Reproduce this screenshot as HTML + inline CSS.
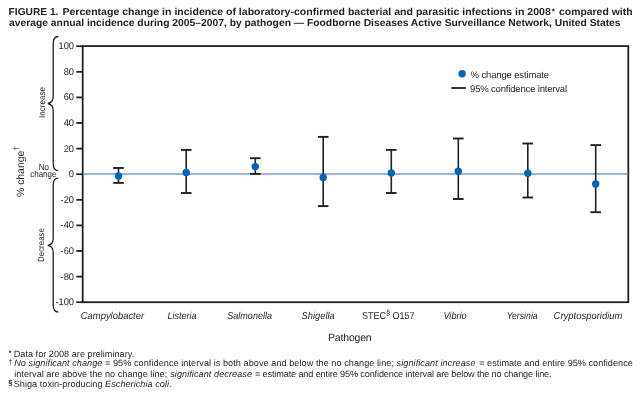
<!DOCTYPE html>
<html><head><meta charset="utf-8"><style>
html,body{margin:0;padding:0;background:#fff;width:641px;height:394px;overflow:hidden}
svg{display:block;will-change:transform}
text{font-family:"Liberation Sans",sans-serif;fill:#231f20;font-variant-ligatures:none;text-rendering:geometricPrecision;font-feature-settings:"liga" 0}
.tk{font-size:9.7px}
.lg{font-size:9.5px}
.xl{font-size:10px}
.it{font-style:italic}
.pa{font-size:10.5px}
.bl{font-size:8px}
.bb{font-size:8.6px}
.bn{font-size:9px}
.yl{font-size:10.5px}
.ti{font-size:10.05px;font-weight:bold}
.fn{font-size:9.15px}
.sm{font-size:6.5px;font-weight:bold}
</style></head><body>
<svg width="641" height="394" viewBox="0 0 641 394">
<rect x="82.7" y="46.1" width="545.6" height="256.1" fill="none" stroke="#231f20" stroke-width="1.8"/>
<line x1="76.3" y1="46.20" x2="82.7" y2="46.20" stroke="#231f20" stroke-width="1.8"/>
<text transform="translate(74,49.10) scale(0.96,1)" text-anchor="end" class="tk">100</text>
<line x1="76.3" y1="71.80" x2="82.7" y2="71.80" stroke="#231f20" stroke-width="1.8"/>
<text transform="translate(74,74.70) scale(0.96,1)" text-anchor="end" class="tk">80</text>
<line x1="76.3" y1="97.40" x2="82.7" y2="97.40" stroke="#231f20" stroke-width="1.8"/>
<text transform="translate(74,100.30) scale(0.96,1)" text-anchor="end" class="tk">60</text>
<line x1="76.3" y1="123.00" x2="82.7" y2="123.00" stroke="#231f20" stroke-width="1.8"/>
<text transform="translate(74,125.90) scale(0.96,1)" text-anchor="end" class="tk">40</text>
<line x1="76.3" y1="148.60" x2="82.7" y2="148.60" stroke="#231f20" stroke-width="1.8"/>
<text transform="translate(74,151.50) scale(0.96,1)" text-anchor="end" class="tk">20</text>
<line x1="76.3" y1="174.20" x2="82.7" y2="174.20" stroke="#231f20" stroke-width="1.8"/>
<text transform="translate(74,177.10) scale(0.96,1)" text-anchor="end" class="tk">0</text>
<line x1="76.3" y1="199.80" x2="82.7" y2="199.80" stroke="#231f20" stroke-width="1.8"/>
<text transform="translate(74,202.70) scale(0.96,1)" text-anchor="end" class="tk">-20</text>
<line x1="76.3" y1="225.40" x2="82.7" y2="225.40" stroke="#231f20" stroke-width="1.8"/>
<text transform="translate(74,228.30) scale(0.96,1)" text-anchor="end" class="tk">-40</text>
<line x1="76.3" y1="251.00" x2="82.7" y2="251.00" stroke="#231f20" stroke-width="1.8"/>
<text transform="translate(74,253.90) scale(0.96,1)" text-anchor="end" class="tk">-60</text>
<line x1="76.3" y1="276.60" x2="82.7" y2="276.60" stroke="#231f20" stroke-width="1.8"/>
<text transform="translate(74,279.50) scale(0.96,1)" text-anchor="end" class="tk">-80</text>
<line x1="76.3" y1="302.20" x2="82.7" y2="302.20" stroke="#231f20" stroke-width="1.8"/>
<text transform="translate(74,305.10) scale(0.96,1)" text-anchor="end" class="tk">-100</text>
<line x1="83.3" y1="174" x2="627.5" y2="174" stroke="#739dd3" stroke-width="1.7"/>
<line x1="118.5" y1="168.0" x2="118.5" y2="182.9" stroke="#231f20" stroke-width="1.6"/>
<line x1="113.2" y1="168.0" x2="123.8" y2="168.0" stroke="#231f20" stroke-width="1.9"/>
<line x1="113.2" y1="182.9" x2="123.8" y2="182.9" stroke="#231f20" stroke-width="1.9"/>
<circle cx="118.5" cy="176.0" r="3.7" fill="#0564b4"/>
<line x1="186.2" y1="149.9" x2="186.2" y2="193.0" stroke="#231f20" stroke-width="1.6"/>
<line x1="180.89999999999998" y1="149.9" x2="191.5" y2="149.9" stroke="#231f20" stroke-width="1.9"/>
<line x1="180.89999999999998" y1="193.0" x2="191.5" y2="193.0" stroke="#231f20" stroke-width="1.9"/>
<circle cx="186.2" cy="172.4" r="3.7" fill="#0564b4"/>
<line x1="255.3" y1="158.2" x2="255.3" y2="173.9" stroke="#231f20" stroke-width="1.6"/>
<line x1="250.0" y1="158.2" x2="260.6" y2="158.2" stroke="#231f20" stroke-width="1.9"/>
<line x1="250.0" y1="173.9" x2="260.6" y2="173.9" stroke="#231f20" stroke-width="1.9"/>
<circle cx="255.3" cy="166.6" r="3.7" fill="#0564b4"/>
<line x1="323.2" y1="136.9" x2="323.2" y2="206.1" stroke="#231f20" stroke-width="1.6"/>
<line x1="317.9" y1="136.9" x2="328.5" y2="136.9" stroke="#231f20" stroke-width="1.9"/>
<line x1="317.9" y1="206.1" x2="328.5" y2="206.1" stroke="#231f20" stroke-width="1.9"/>
<circle cx="323.2" cy="177.5" r="3.7" fill="#0564b4"/>
<line x1="391.3" y1="149.9" x2="391.3" y2="193.0" stroke="#231f20" stroke-width="1.6"/>
<line x1="386.0" y1="149.9" x2="396.6" y2="149.9" stroke="#231f20" stroke-width="1.9"/>
<line x1="386.0" y1="193.0" x2="396.6" y2="193.0" stroke="#231f20" stroke-width="1.9"/>
<circle cx="391.3" cy="173.0" r="3.7" fill="#0564b4"/>
<line x1="458.3" y1="138.5" x2="458.3" y2="199.0" stroke="#231f20" stroke-width="1.6"/>
<line x1="453.0" y1="138.5" x2="463.6" y2="138.5" stroke="#231f20" stroke-width="1.9"/>
<line x1="453.0" y1="199.0" x2="463.6" y2="199.0" stroke="#231f20" stroke-width="1.9"/>
<circle cx="458.3" cy="171.2" r="3.7" fill="#0564b4"/>
<line x1="527.8" y1="143.5" x2="527.8" y2="197.5" stroke="#231f20" stroke-width="1.6"/>
<line x1="522.5" y1="143.5" x2="533.0999999999999" y2="143.5" stroke="#231f20" stroke-width="1.9"/>
<line x1="522.5" y1="197.5" x2="533.0999999999999" y2="197.5" stroke="#231f20" stroke-width="1.9"/>
<circle cx="527.8" cy="173.2" r="3.7" fill="#0564b4"/>
<line x1="595.7" y1="145.1" x2="595.7" y2="212.2" stroke="#231f20" stroke-width="1.6"/>
<line x1="590.4000000000001" y1="145.1" x2="601.0" y2="145.1" stroke="#231f20" stroke-width="1.9"/>
<line x1="590.4000000000001" y1="212.2" x2="601.0" y2="212.2" stroke="#231f20" stroke-width="1.9"/>
<circle cx="595.7" cy="184.0" r="3.7" fill="#0564b4"/>
<circle cx="462.1" cy="73.8" r="3.7" fill="#0564b4"/>
<line x1="451.4" y1="88" x2="465.8" y2="88" stroke="#231f20" stroke-width="1.8"/>
<text x="470.6" y="77.5" class="lg" textLength="78.5" lengthAdjust="spacing">% change estimate</text>
<text x="470.1" y="91.8" class="lg" textLength="97" lengthAdjust="spacing">95% confidence interval</text>
<text x="80.8" y="318.6" class="xl it" textLength="63.3" lengthAdjust="spacingAndGlyphs">Campylobacter</text>
<text x="167.5" y="318.6" class="xl it" textLength="29.0" lengthAdjust="spacingAndGlyphs">Listeria</text>
<text x="227.2" y="318.6" class="xl it" textLength="44.9" lengthAdjust="spacingAndGlyphs">Salmonella</text>
<text x="301.59999999999997" y="318.6" class="xl it" textLength="33.1" lengthAdjust="spacingAndGlyphs">Shigella</text>
<text transform="translate(361.9,318.6) scale(0.9,1)" class="xl">STEC<tspan dy="-3.2" font-size="7.5" dx="0.3">§</tspan><tspan dy="3.2"> O157</tspan></text>
<text x="443.4" y="318.6" class="xl it" textLength="23.3" lengthAdjust="spacingAndGlyphs">Vibrio</text>
<text x="506.7" y="318.6" class="xl it" textLength="31.0" lengthAdjust="spacingAndGlyphs">Yersinia</text>
<text x="553.6" y="318.6" class="xl it" textLength="68.8" lengthAdjust="spacingAndGlyphs">Cryptosporidium</text>
<text x="328" y="341" class="pa" textLength="43.7" lengthAdjust="spacing">Pathogen</text>
<path d="M58.3,36.5 Q53.2,36.5 53.2,43.5 L53.2,96.5 Q53.2,102.5 47.8,103.5 Q53.2,104.5 53.2,110.5 L53.2,163.6 Q53.2,170.6 58.3,170.6" fill="none" stroke="#231f20" stroke-width="1.3"/>
<path d="M58.3,178.2 Q53.2,178.2 53.2,185.2 L53.2,238.4 Q53.2,244.4 47.8,245.4 Q53.2,246.4 53.2,252.4 L53.2,305.0 Q53.2,312.0 58.3,312.0" fill="none" stroke="#231f20" stroke-width="1.3"/>
<text transform="translate(45.3,102.5) rotate(-90) scale(0.94,1)" text-anchor="middle" class="bb">Increase</text>
<text transform="translate(44.1,245) rotate(-90) scale(0.925,1)" text-anchor="middle" class="bb">Decrease</text>
<text transform="translate(38.8,169.6) scale(0.89,1)" class="bn">No</text>
<text transform="translate(30.2,177.1) scale(0.89,1)" class="bn">change</text>
<text transform="translate(23.8,197) rotate(-90) scale(0.99,1)" class="yl">% change<tspan dy="-4.6" dx="0.3" font-size="8">†</tspan></text>
<text x="8.6" y="15" class="ti" textLength="49.8" lengthAdjust="spacingAndGlyphs">FIGURE 1.</text>
<text x="62.4" y="15" class="ti" textLength="488.4" lengthAdjust="spacingAndGlyphs">Percentage change in incidence of laboratory-confirmed bacterial and parasitic infections in 2008</text>
<text x="551.7" y="13.6" class="ti" style="font-size:8px">*</text>
<text x="559" y="15" class="ti" textLength="73.5" lengthAdjust="spacingAndGlyphs">compared with</text>
<text x="9" y="26" class="ti" textLength="611.6" lengthAdjust="spacingAndGlyphs">average annual incidence during 2005–2007, by pathogen — Foodborne Diseases Active Surveillance Network, United States</text>
<text x="8.7" y="354.7" class="sm">*</text>
<text x="13.7" y="356.6" class="fn" textLength="120.5" lengthAdjust="spacing">Data for 2008 are preliminary.</text>
<text x="8.8" y="364.2" class="sm">†</text>
<text x="14.2" y="366.1" class="fn it" textLength="88.2" lengthAdjust="spacing">No significant change</text>
<text x="105" y="366.1" class="fn" textLength="289.0" lengthAdjust="spacing">= 95% confidence interval is both above and below the no change line;</text>
<text x="396.5" y="366.1" class="fn it" textLength="79.0" lengthAdjust="spacing">significant increase</text>
<text x="479.2" y="366.1" class="fn" textLength="153.6" lengthAdjust="spacing">= estimate and entire 95% confidence</text>
<text x="14.2" y="376.7" class="fn" textLength="153.0" lengthAdjust="spacing">interval are above the no change line;</text>
<text x="170.2" y="376.7" class="fn it" textLength="81.8" lengthAdjust="spacing">significant decrease</text>
<text x="255" y="376.7" class="fn" textLength="296.6" lengthAdjust="spacing">= estimate and entire 95% confidence interval are below the no change line.</text>
<text x="8.3" y="384.8" class="sm" style="font-size:7.5px">§</text>
<text x="13.7" y="387.1" class="fn" textLength="157.8" lengthAdjust="spacing">Shiga toxin-producing <tspan class="it">Escherichia coli</tspan>.</text>
</svg>
</body></html>
